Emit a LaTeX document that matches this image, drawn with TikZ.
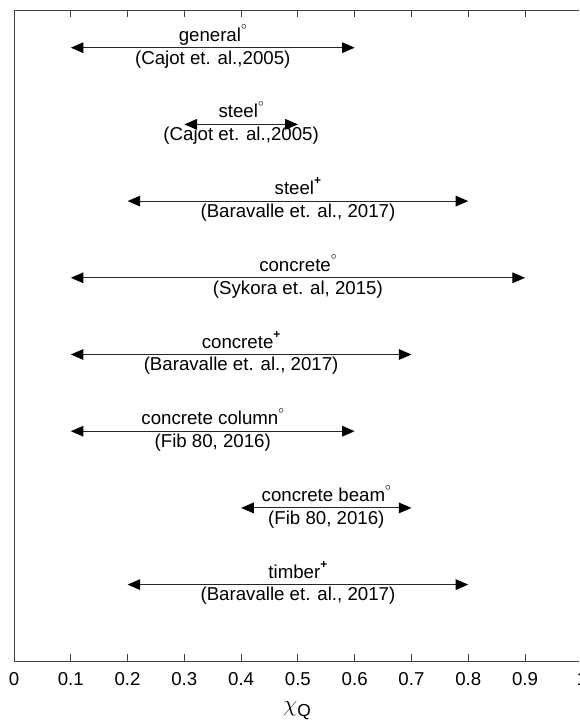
\documentclass[tikz,border=0pt]{standalone}
\usepackage{fontspec}
\setmainfont{Liberation Sans}
\usetikzlibrary{arrows.meta, calc}

\newcommand{\sdeg}{\raisebox{1.15ex}{\fontsize{8}{8}\selectfont$\circ$}}
\newcommand{\splus}{\raisebox{1.0ex}{\fontsize{9}{9}\selectfont\textbf{+}}}

\begin{document}
\begin{tikzpicture}[x=0.75pt, y=-0.75pt, line join=round,
    chirange/.style={{Triangle[length=9.5pt,width=8pt,black]}-{Triangle[length=9.5pt,width=8pt,black]}, line width=0.75pt, black!85},
    axisline/.style={black!75, line width=0.75pt},
    lab/.style={font=\fontsize{14}{16}\selectfont, inner sep=0pt}]
    % 1. page (the right edge of the plot is cut off)
    \useasboundingbox (0,0) rectangle (579,721);
    \clip (0,0) rectangle (579,721);

    % 2. frame of the plot
    \coordinate (O) at (14,661);
    \coordinate (E) at (581.8,10);
    \draw[axisline] (O) rectangle (E);

    % 3. ticks and tick labels
    \foreach \t/\tl in {0/0,1/0.1,2/0.2,3/0.3,4/0.4,5/0.5,6/0.6,7/0.7,8/0.8,9/0.9,10/1} {
        \pgfmathsetmacro{\xt}{14+56.78*\t}
        \draw[axisline] (\xt,661) -- ++(0,-7);
        \draw[axisline] (\xt,10) -- ++(0,7);
        \node[lab, anchor=base] (tick\t) at (\xt,685) {\tl};
    }
    \node[lab, anchor=base] (xlabel) at (297,711) {\fontsize{16}{16}\selectfont$\chi$\raisebox{-0.45ex}{\fontsize{13}{13}\selectfont Q}};

    % 4. ranges
    \foreach \i/\a/\b/\lab/\cit in {
        1/0.1/0.6/general\sdeg/{(Cajot et. al.,2005)},
        2/0.3/0.5/steel\sdeg/{(Cajot et. al.,2005)},
        3/0.2/0.8/steel\splus/{(Baravalle et. al., 2017)},
        4/0.1/0.9/concrete\sdeg/{(Sykora et. al, 2015)},
        5/0.1/0.7/concrete\splus/{(Baravalle et. al., 2017)},
        6/0.1/0.6/concrete column\sdeg/{(Fib 80, 2016)},
        7/0.4/0.7/concrete beam\sdeg/{(Fib 80, 2016)},
        8/0.2/0.8/timber\splus/{(Baravalle et. al., 2017)}} {
        \pgfmathsetmacro{\yr}{47.7+76.7*(\i-1)}
        \pgfmathsetmacro{\xa}{14+567.8*\a}
        \pgfmathsetmacro{\xb}{14+567.8*\b}
        \coordinate (r\i-a) at (\xa,\yr);
        \coordinate (r\i-b) at (\xb,\yr);
        \draw[chirange] (r\i-a) -- (r\i-b);
        \node[lab, anchor=base] (r\i-lab) at ($(r\i-a)!0.5!(r\i-b)+(0,-6.5)$) {\lab};
        \node[lab, anchor=base] (r\i-cit) at ($(r\i-a)!0.5!(r\i-b)+(0,16.3)$) {\cit};
    }
\end{tikzpicture}
\end{document}
